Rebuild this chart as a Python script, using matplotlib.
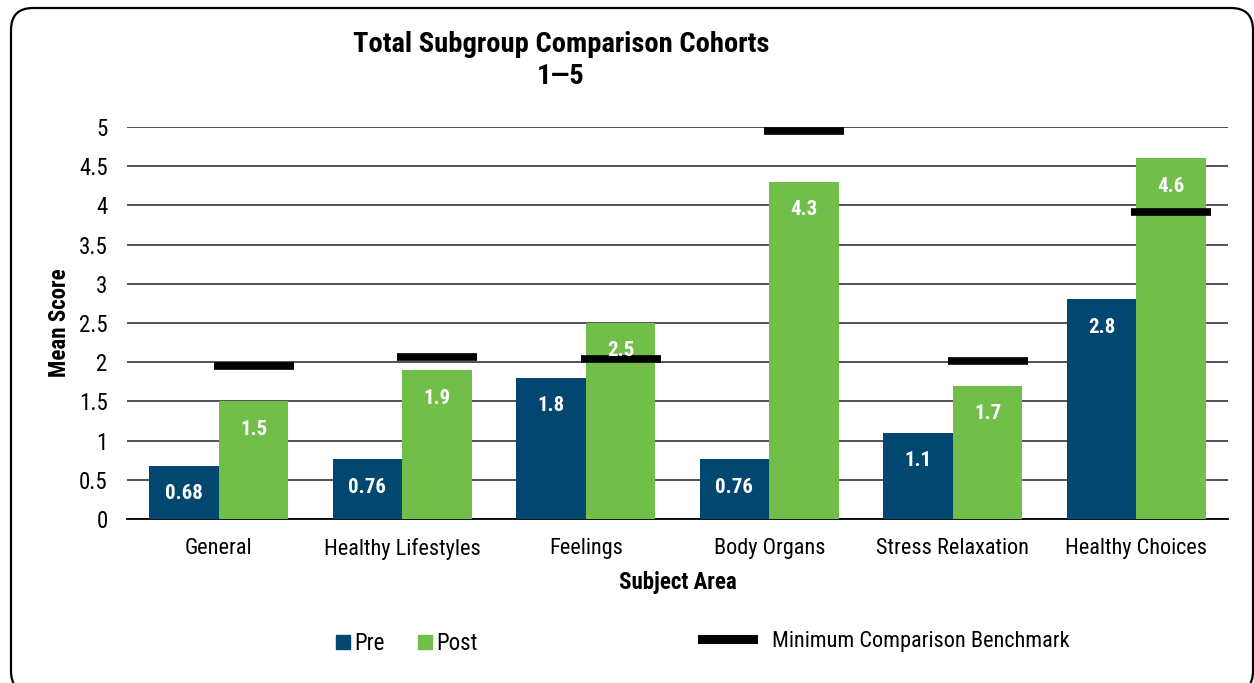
import numpy as np
import matplotlib.pyplot as plt
from matplotlib.patches import FancyBboxPatch, Patch
from matplotlib.lines import Line2D
from matplotlib.transforms import IdentityTransform

plt.rcParams['font.family'] = ['Roboto Condensed', 'Liberation Sans', 'DejaVu Sans']

categories = ['General', 'Healthy Lifestyles', 'Feelings', 'Body Organs',
              'Stress Relaxation', 'Healthy Choices']
pre = [0.68, 0.76, 1.8, 0.76, 1.1, 2.8]
post = [1.5, 1.9, 2.5, 4.3, 1.7, 4.6]
benchmark = [1.95, 2.07, 2.04, 4.95, 2.01, 3.91]
yticks = [0, 0.5, 1, 1.5, 2, 2.5, 3, 3.5, 4, 4.5, 5]
ytick_labels = ['0', '0.5', '1', '1.5', '2', '2.5', '3', '3.5', '4', '4.5', '5']

pre_color = '#01476F'
post_color = '#71BE4B'

W, H = 1254, 683
fig = plt.figure(figsize=(W / 100, H / 100), dpi=100)
ax = fig.add_axes([127 / W, 1 - 519 / H, (1228 - 127) / W, (519 - 127) / H])

x = np.arange(len(categories))
w = 0.38
ax.bar(x - w / 2, pre, w, color=pre_color, zorder=3)
ax.bar(x + w / 2, post, w, color=post_color, zorder=3)
ax.hlines(benchmark, x + w / 2 - 0.218, x + w / 2 + 0.218, color='black',
          lw=5.5, zorder=4)

# value labels just under the top of each bar
off = 28 / 78.4
for xi, v in zip(x - w / 2, pre):
    ax.text(xi, v - off, f'{v:g}', ha='center', va='center', color='white',
            fontsize=15, fontweight='bold', zorder=5)
for xi, v in zip(x + w / 2, post):
    ax.text(xi, v - off, f'{v:g}', ha='center', va='center', color='white',
            fontsize=15, fontweight='bold', zorder=5)

ax.set_xlim(-0.5, len(categories) - 0.5)
ax.set_ylim(0, 5)
ax.set_yticks(yticks)
ax.set_yticklabels(ytick_labels, fontsize=16.5)
ax.set_xticks(x)
ax.set_xticklabels(categories, fontsize=16)
ax.tick_params(axis='both', length=0)
ax.tick_params(axis='y', pad=14)
ax.tick_params(axis='x', pad=14)
ax.yaxis.grid(True, color='#222222', lw=1.1, zorder=0)
ax.set_axisbelow(True)
for s in ['top', 'right', 'left']:
    ax.spines[s].set_visible(False)
ax.spines['bottom'].set_color('black')
ax.spines['bottom'].set_linewidth(1.3)
ax.spines['bottom'].set_zorder(2)

fig.text(678 / W, 1 - 582 / H, 'Subject Area', ha='center', va='center',
         fontsize=16.5, fontweight='bold')
fig.text(60 / W, 1 - 323 / H, 'Mean Score', ha='center', va='center',
         fontsize=16.5, fontweight='bold', rotation=90)
fig.text(561 / W, 1 - 45 / H, 'Total Subgroup Comparison Cohorts',
         ha='center', va='center', fontsize=20.5, fontweight='bold')
fig.text(561 / W, 1 - 77 / H, '1\u20145', ha='center', va='center',
         fontsize=20.5, fontweight='bold')

leg1 = fig.legend(handles=[Patch(color=pre_color, label='Pre'),
                           Patch(color=post_color, label='Post')],
                  loc='center left', bbox_to_anchor=(336 / W, 1 - 644 / H),
                  ncol=2, frameon=False, fontsize=16.5, handlelength=0.6,
                  handleheight=0.57, handletextpad=0.2, columnspacing=1.45,
                  borderpad=0, borderaxespad=0)
leg2 = fig.legend(handles=[Line2D([], [], color='black', lw=6.5,
                                  label='Minimum Comparison Benchmark')],
                  loc='center left', bbox_to_anchor=(702 / W, 1 - 641 / H),
                  frameon=False, fontsize=16, handlelength=2.3,
                  handletextpad=0.85, borderpad=0, borderaxespad=0)

# rounded frame around the chart
frame = FancyBboxPatch((11, -10), 1242, H - 8 + 10,
                       boxstyle='round,pad=0,rounding_size=22',
                       transform=IdentityTransform(), fill=False,
                       edgecolor='black', lw=1.6)
fig.patches.append(frame)

fig.savefig('out.png', dpi=100)
